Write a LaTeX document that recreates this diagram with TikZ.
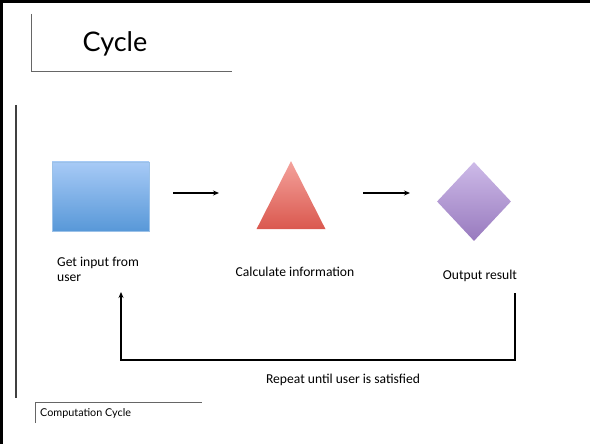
\documentclass[tikz,border=0pt]{standalone}
\usepackage{fontspec}
\setmainfont{Carlito}
\newfontfamily\titlefont{Lato}
\usetikzlibrary{arrows.meta,shapes.geometric,positioning}
\definecolor{cblueT}{RGB}{167,202,246}
\definecolor{cblueB}{RGB}{88,152,216}
\definecolor{credT}{RGB}{244,162,156}
\definecolor{credB}{RGB}{218,88,78}
\definecolor{cpurT}{RGB}{205,186,232}
\definecolor{cpurB}{RGB}{152,122,190}
\begin{document}
\begin{tikzpicture}[x=1pt,y=-1pt,>={Stealth[length=6pt,width=5pt]},
  every node/.style={font=\fontsize{13.6}{15}\selectfont},
  flow/.style={->,line width=1.1pt},
  rule/.style={gray!80!black,line width=0.9pt}]
  \useasboundingbox (0,0) rectangle (590,444);
  % frame
  \draw[line width=3pt] (1.5,444) -- (1.5,1.5) -- (590,1.5);
  % title
  \draw[rule] (31,14) -- (31,71) -- (232,71);
  \node (title) at (115,44) {\titlefont\fontsize{27}{30}\selectfont Cycle};
  \draw[black!75,line width=1.6pt] (16,105) -- (16,398);
  % steps
  \node[draw=cblueB!60,line width=0.4pt,top color=cblueT,bottom color=cblueB,
        minimum width=97,minimum height=69,inner sep=0] (input) at (100.5,196.5) {};
  \node[isosceles triangle,shape border rotate=90,isosceles triangle stretches,
        top color=credT,bottom color=credB,minimum width=69,minimum height=68,
        inner sep=0] (calc) at (291,208) {};
  \node[diamond,top color=cpurT,bottom color=cpurB,minimum width=74,minimum height=79,
        inner sep=0] (out) at (474,201.5) {};
  % arrows
  \coordinate (a1s) at (173,193); \coordinate (a1e) at (219,193);
  \coordinate (a2s) at (363,193); \coordinate (a2e) at (410,193);
  \draw[flow] (a1s) -- (a1e);
  \draw[flow] (a2s) -- (a2e);
  % labels
  \node[align=left,anchor=north west,inner sep=0] (linput) at (57,257) {Get input from\\user};
  \node (lcalc) at (295,272) {Calculate information};
  \node (lout) at (480,276) {Output result};
  % repeat
  \coordinate (fbs) at (515,293); \coordinate (fbe) at (121,292);
  \draw[flow] (fbs) -- ++(0,67) -| (fbe);
  \node (lrep) at (343,380) {Repeat until user is satisfied};
  % footer
  \draw[rule,line width=0.7pt] (35,423) -- (35,402) -- (202,402);
  \node[anchor=west,inner sep=0] (foot) at (40,413) {\titlefont\fontsize{10.8}{12}\selectfont Computation Cycle};
\end{tikzpicture}
\end{document}
